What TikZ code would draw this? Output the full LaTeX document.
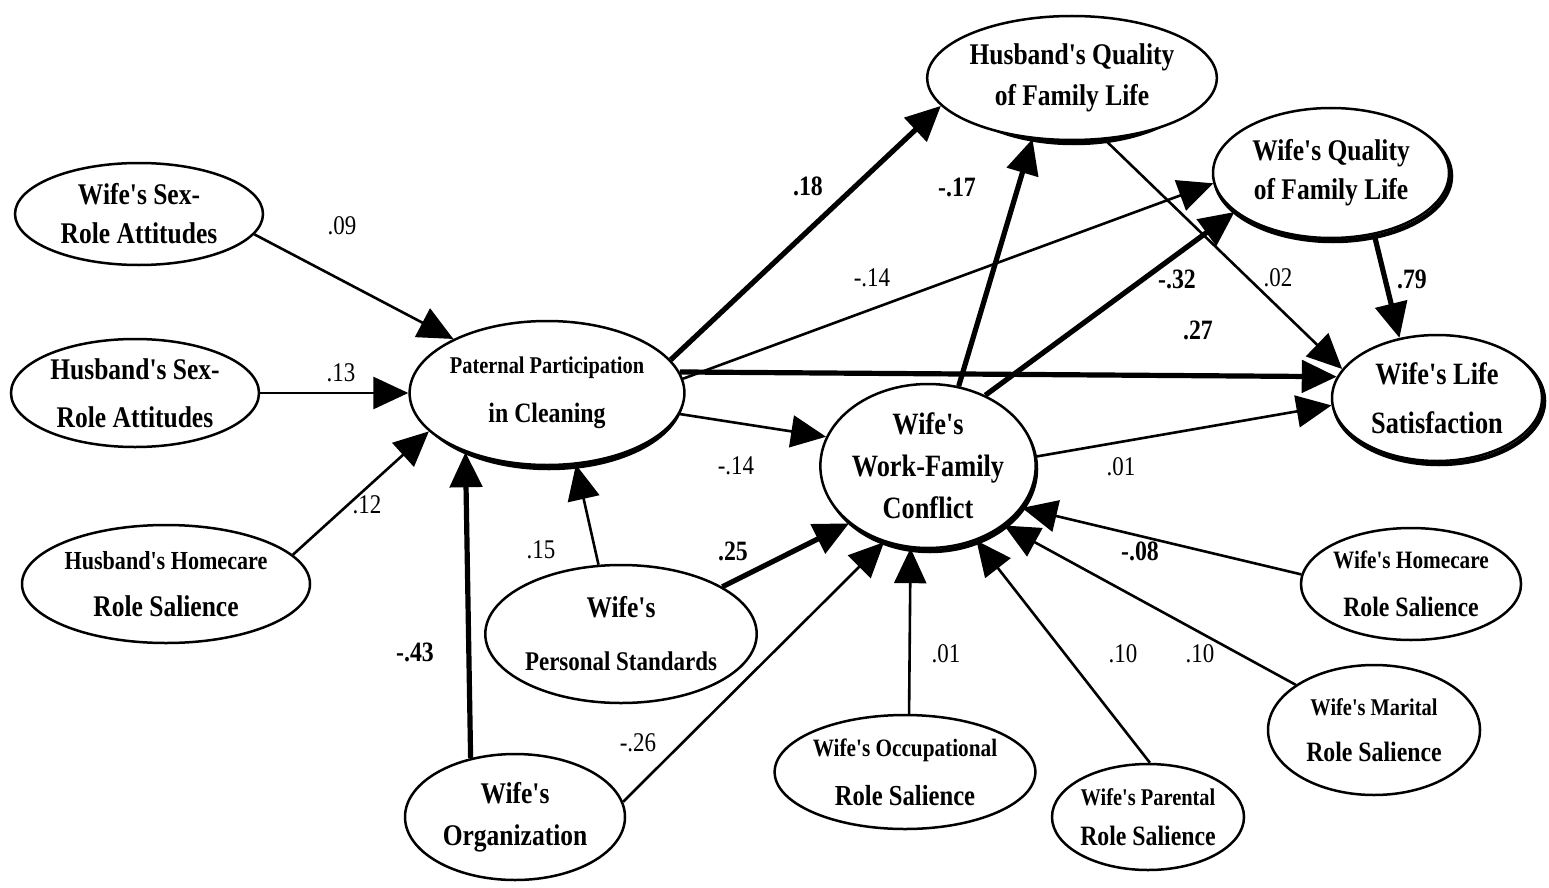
\documentclass[tikz,border=0pt]{standalone}
\usepackage{fontspec}
\setmainfont{Liberation Serif}[FakeStretch=0.85,Ligatures=TeXOff]
\usetikzlibrary{arrows.meta,shapes.geometric}

% two centred lines with their own sizes and a fixed baseline distance
\newcommand\twoline[5]{\vbox{\baselineskip=#3pt\relax
  \halign{\hfil##\hfil\cr
    \fontsize{#1}{#1}\selectfont #4\cr
    \fontsize{#2}{#2}\selectfont #5\cr}}}

\begin{document}
\begin{tikzpicture}[x=1pt,y=-1pt,
  var/.style={ellipse,draw,line width=2.5pt,fill=white,inner sep=0pt,font=\bfseries},
  shade/.style={draw,line width=4.5pt},
  head/.style={-{Triangle[length=35pt,width=32pt]}},
  thinpath/.style={head,line width=2.6pt},
  thickpath/.style={head,line width=5.2pt},
  coef/.style={font=\fontsize{27}{27}\selectfont,inner sep=1pt},
  bcoef/.style={font=\fontsize{28}{28}\selectfont\bfseries,inner sep=1pt}]

\useasboundingbox (0,0) rectangle (1549,888);

% drop shadows of the endogenous variables
\draw[shade] (1074,81) ellipse [x radius=125, y radius=62];
\draw[shade] (1333,176) ellipse [x radius=118, y radius=65];
\draw[shade] (549,396) ellipse [x radius=133, y radius=72];
\draw[shade] (930,469) ellipse [x radius=106, y radius=82];
\draw[shade] (1439,401) ellipse [x radius=105, y radius=63];

% variables
\node[var,minimum width=250pt,minimum height=124pt] (HQ) at (1072,78)
  {\twoline{30}{30}{41}{Husband's Quality}{of Family Life}};
\node[var,minimum width=236pt,minimum height=130pt] (WQ) at (1331,173)
  {\twoline{30}{30}{39}{Wife's Quality}{of Family Life}};
\node[var,minimum width=248pt,minimum height=102pt] (WSR) at (139,214)
  {\twoline{30}{30}{39}{Wife's Sex-}{Role Attitudes}};
\node[var,minimum width=248pt,minimum height=108pt] (HSR) at (135,393)
  {\twoline{30}{30}{48}{Husband's Sex-}{Role Attitudes}};
\node[var,minimum width=288pt,minimum height=118pt] (HH) at (166,584)
  {\twoline{26}{30}{47}{Husband's Homecare}{Role Salience}};
\node[var,minimum width=266pt,minimum height=144pt] (PP) at (547,393)
  {\twoline{24}{28}{49}{Paternal Participation}{in Cleaning}};
\node[var,minimum width=212pt,minimum height=164pt] (WFC) at (928,466)
  {\vbox{\baselineskip=42pt\relax\halign{\hfil#\hfil\cr
    \fontsize{31}{31}\selectfont Wife's\cr
    \fontsize{31}{31}\selectfont Work-Family\cr
    \fontsize{31}{31}\selectfont Conflict\cr}}};
\node[var,minimum width=210pt,minimum height=126pt] (LS) at (1437,398)
  {\twoline{31}{31}{49}{Wife's Life}{Satisfaction}};
\node[var,minimum width=242pt,minimum height=138pt] (WPS) at (621,634)
  {\twoline{30}{27}{53}{Wife's}{Personal Standards}};
\node[var,minimum width=220pt,minimum height=126pt] (WO) at (515,817)
  {\twoline{30}{30}{42}{Wife's}{Organization}};
\node[var,minimum width=240pt,minimum height=114pt] (WOcc) at (905,772)
  {\twoline{25}{29}{49}{Wife's Occupational}{Role Salience}};
\node[var,minimum width=192pt,minimum height=106pt] (WPar) at (1148,817)
  {\twoline{24}{28}{40}{Wife's Parental}{Role Salience}};
\node[var,minimum width=212pt,minimum height=130pt] (WM) at (1374,730)
  {\twoline{24}{28}{46}{Wife's Marital}{Role Salience}};
\node[var,minimum width=214pt,minimum height=112pt] (WH) at (1411,584)
  {\twoline{25}{28}{48}{Wife's Homecare}{Role Salience}};

% paths into paternal participation
\draw[thinpath] (WSR.-10) -- (PP.150);
\draw[thinpath] (HSR.0) -- (PP.180);
\draw[thinpath] (HH.13) -- (PP.198);
\draw[thickpath] (WO.127) -- (PP.216.6);
\draw[thinpath] (WPS.108) -- (PP.292);

% paths into work-family conflict
\draw[thickpath] (WPS.25) -- (WFC.216);
\draw[thinpath] (WO.8) -- (WFC.240);
\draw[thinpath] (PP.-9) -- (WFC.164);
\draw[thinpath] (WOcc.86.5) -- (WFC.258.8);
\draw[thinpath] (WPar.88) -- (WFC.-57);
\draw[thinpath] (WM.150) -- (WFC.-38);
\draw[thinpath] (WH.175) -- (WFC.-24);

% paths into the outcomes
\draw[thickpath] (PP.15) -- (HQ.192);
\draw[thinpath] (PP.6) -- (WQ.185);
\draw[thickpath] (PP.9) -- (LS.168);
\draw[thickpath] (WFC.69) -- (HQ.237);
\draw[thickpath] (WFC.51) -- (WQ.202);
\draw[thinpath] (WFC.5) -- (LS.184);
\draw[thinpath] (HQ.-62) -- (LS.163);
\draw[thickpath] (WQ.-55.3) -- (LS.122);

% path coefficients
\node[coef] (c1) at (342,226) {.09};
\node[coef] (c2) at (341,373) {.13};
\node[coef] (c3) at (367,505) {.12};
\node[bcoef] (c4) at (415,652) {-.43};
\node[coef] (c5) at (541,550) {.15};
\node[bcoef] (c6) at (733,551) {.25};
\node[coef] (c7) at (638,743) {-.26};
\node[coef] (c8) at (736,466) {-.14};
\node[bcoef] (c9) at (808,186) {.18};
\node[coef] (c10) at (872,278) {-.14};
\node[bcoef] (c11) at (1198,330) {.27};
\node[bcoef] (c12) at (957,187) {-.17};
\node[bcoef] (c13) at (1177,279) {-.32};
\node[coef] (c14) at (1278,278) {.02};
\node[bcoef] (c15) at (1412,279) {.79};
\node[coef] (c16) at (1121,467) {.01};
\node[bcoef] (c17) at (1140,551) {-.08};
\node[coef] (c18) at (1200,654) {.10};
\node[coef] (c19) at (1123,654) {.10};
\node[coef] (c20) at (946,654) {.01};
\end{tikzpicture}
\end{document}
